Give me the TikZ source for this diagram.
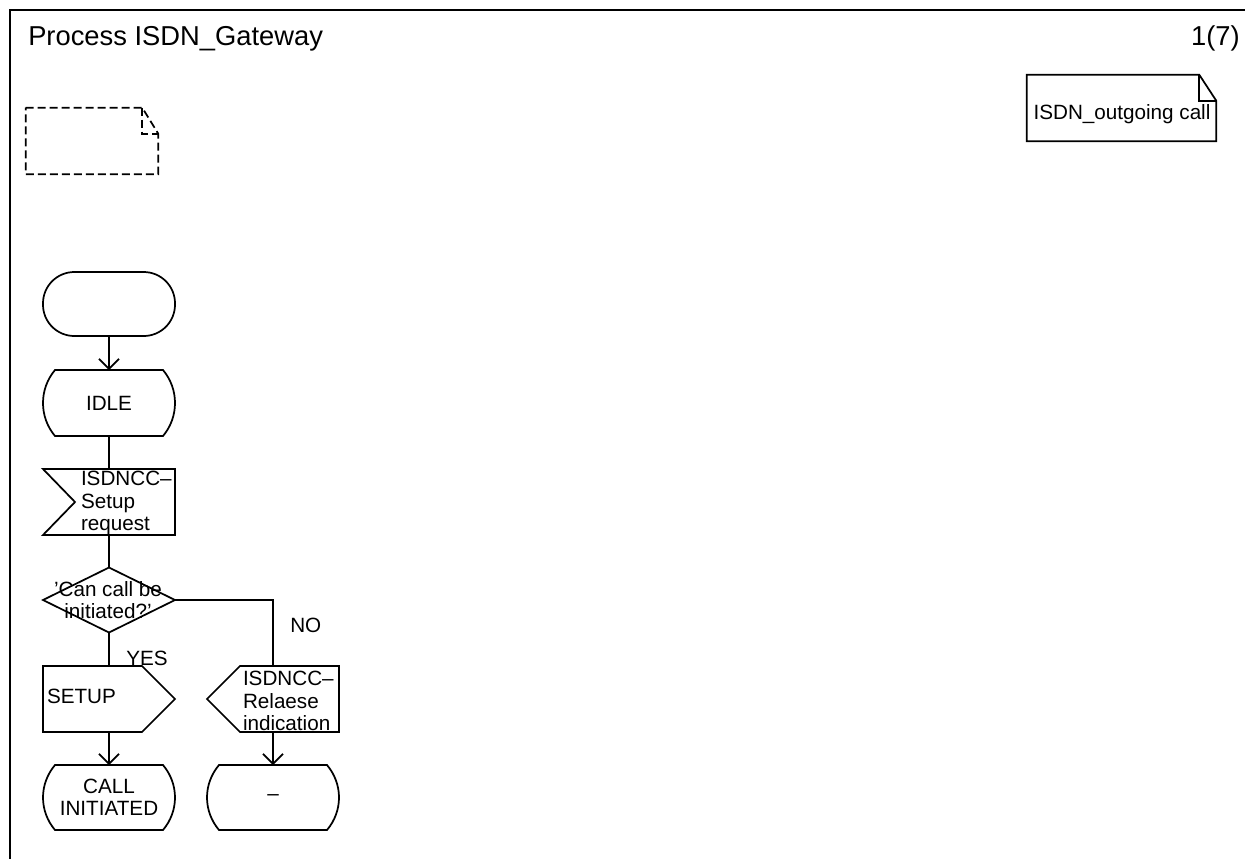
\documentclass[tikz,border=0pt]{standalone}
\usepackage{fontspec}
\setmainfont{Liberation Sans}
\usetikzlibrary{calc,arrows.meta}
\newcommand\bodyfont{\fontsize{15.5}{16.8}\selectfont}
\newcommand\titlefont{\fontsize{20.5}{24}\selectfont}
\newcommand\drawstate[1]{\draw[shp] ($(#1.north west)+(12,0)$) -- ($(#1.north east)+(-12,0)$)
  .. controls ($(#1.north east)+(4,19)$) and ($(#1.south east)+(4,-19)$) .. ($(#1.south east)+(-12,0)$)
  -- ($(#1.south west)+(12,0)$)
  .. controls ($(#1.south west)+(-4,-19)$) and ($(#1.north west)+(-4,19)$) .. cycle;}
\tikzset{
  x=0.75pt, y=-0.75pt,
  shp/.style={line width=1.3pt, line join=miter},
  box/.style={inner sep=0pt, outer sep=0pt, minimum width=99pt, minimum height=49.5pt},
  txt/.style={inner sep=0pt, outer sep=0pt, font=\bodyfont, align=left},
  conn/.style={line width=1.3pt},
  arr/.style={conn, -{Straight Barb[length=7.5pt,width=15pt,line width=1.3pt]}},
}
\begin{document}
\begin{tikzpicture}
\useasboundingbox (0,0) rectangle (1245,858);
% frame
\coordinate (fb) at (10,860);
\coordinate (fc) at (10,10);
\coordinate (fr) at (1247,10);
\draw[shp] (fb) -- (fc) -- (fr);
\node[anchor=base west, inner sep=0pt, font=\titlefont] (title) at (28,45) {Process ISDN\_Gateway};
\node[anchor=base east, inner sep=0pt, font=\titlefont] (page) at (1240,45) {1(7)};
% dashed note
\node[inner sep=0pt, minimum width=99pt, minimum height=49.5pt] (dnote) at (92,141) {};
\draw[shp, dash pattern=on 6pt off 3pt] (dnote.north west) -- ($(dnote.north east)+(-16,0)$) -- ($(dnote.north east)+(0,26)$) -- (dnote.south east) -- (dnote.south west) -- cycle;
\draw[shp, dash pattern=on 6pt off 3pt] ($(dnote.north east)+(-16,0)$) -- ($(dnote.north east)+(-16,26)$) -- ($(dnote.north east)+(0,26)$);
% text note
\node[inner sep=0pt, minimum width=141.75pt, minimum height=49.5pt] (tnote) at (1121.5,108) {};
\draw[shp] (tnote.north west) -- ($(tnote.north east)+(-17,0)$) -- ($(tnote.north east)+(0,26)$) -- (tnote.south east) -- (tnote.south west) -- cycle;
\draw[shp] ($(tnote.north east)+(-17,0)$) -- ($(tnote.north east)+(-17,26)$) -- ($(tnote.north east)+(0,26)$);
\node[anchor=base, inner sep=0pt, font=\bodyfont] (tnotet) at (1122,119) {ISDN\_outgoing call};
% start
\node[box, minimum height=48pt] (start) at (109,304) {};
\draw[shp, rounded corners=23.5pt] (start.north west) rectangle (start.south east);
% idle
\node[box, font=\bodyfont] (idle) at (109,403) {IDLE};
\drawstate{idle}
% input
\node[box] (input) at (109,502) {};
\draw[shp] (input.north west) -- (input.north east) -- (input.south east) -- (input.south west) -- ($(input.west)+(32,0)$) -- cycle;
\node[txt, anchor=west] (inputt) at ($(input.west)+(38,1)$) {ISDNCC–\\Setup\\request};
% decision
\node[box, minimum height=48.75pt] (dec) at (109,600) {};
\draw[shp] (dec.north) -- (dec.east) -- (dec.south) -- (dec.west) -- cycle;
\node[txt, align=center, anchor=center] (dect) at (108,600) {'Can call be\\initiated?'};
% setup
\node[box] (setup) at (109,699) {};
\draw[shp] (setup.north west) -- ($(setup.north east)+(-33,0)$) -- (setup.east) -- ($(setup.south east)+(-33,0)$) -- (setup.south west) -- cycle;
\node[txt, anchor=west] (setupt) at ($(setup.west)+(4,-3)$) {SETUP};
% release
\node[box] (rel) at (273,699) {};
\draw[shp] (rel.north east) -- ($(rel.north west)+(33,0)$) -- (rel.west) -- ($(rel.south west)+(33,0)$) -- (rel.south east) -- cycle;
\node[txt, anchor=west] (relt) at ($(rel.west)+(36,2)$) {ISDNCC–\\Relaese\\indication};
% final states
\node[box, minimum height=48.75pt, font=\bodyfont, align=center] (callinit) at (109,797.5) {CALL\\INITIATED};
\drawstate{callinit}
\node[box, minimum height=48.75pt, font=\bodyfont] (dash) at (273,797.5) {–};
\drawstate{dash}
% connectors
\draw[arr] (start.south) -- (idle.north);
\draw[conn] (idle.south) -- (input.north);
\draw[conn] (input.south) -- (dec.north);
\draw[conn] (dec.south) -- (setup.north);
\draw[conn] (dec.east) -| (rel.north);
\draw[arr] (setup.south) -- (callinit.north);
\draw[arr] (rel.south) -- (dash.north);
\node[anchor=base west, inner sep=0pt, font=\bodyfont] (yes) at (126,665) {YES};
\node[anchor=base west, inner sep=0pt, font=\bodyfont] (no) at (290,632) {NO};
\end{tikzpicture}
\end{document}
